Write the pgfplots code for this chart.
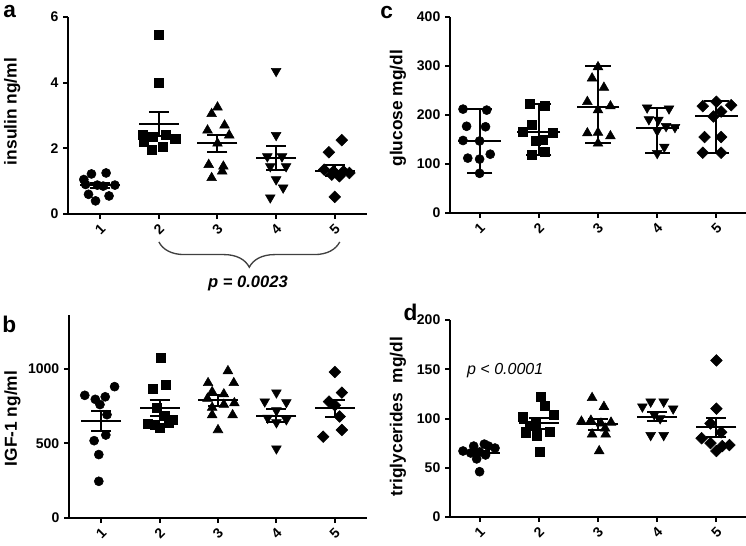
\documentclass[border=0pt]{standalone}
\usepackage{pgfplots}
\pgfplotsset{compat=1.18}
\usepackage{fontspec}
\setmainfont{Liberation Sans}
\usetikzlibrary{decorations.pathreplacing}

\pgfplotsset{
  panel/.style={
    scale only axis,
    axis x line*=bottom, axis y line*=left,
    axis line style={-, line width=1.5pt},
    tick align=outside,
    major tick length=3.75pt,
    tick style={line width=1.5pt, black},
    xtick={1,2,3,4,5},
    xticklabels={1,2,3,4,5},
    tick label style={font=\bfseries\fontsize{10.5}{12}\selectfont},
    xticklabel style={yshift=-8pt, rotate=45, anchor=center},
    /pgf/number format/assume math mode=true,
    /pgf/number format/1000 sep={},
    ylabel style={font=\bfseries\fontsize{13}{15}\selectfont, anchor=center},
    clip=false,
    ymin=0,
  },
  meanbar/.style={black, only marks, mark=-, mark size=15pt,
    mark options={line width=1.5pt, black},
    error bars/.cd, y dir=both, y explicit,
    error bar style={line width=1.5pt, black},
    error mark options={rotate=90, line width=1.5pt, black, mark size=7.5pt}},
  rangebar/.style={black, only marks, mark=-, mark size=16pt,
    mark options={line width=1.5pt, black},
    error bars/.cd, y dir=both, y explicit,
    error bar style={line width=1.5pt, black},
    error mark options={rotate=90, line width=1.5pt, black, mark size=9.5pt}},
  circ/.style={black, only marks, mark=*, mark size=3.4pt},
  sq/.style={black, only marks, mark=square*, mark size=3.4pt},
  tri/.style={black, only marks, mark=triangle*, mark size=4.2pt},
  itri/.style={black, only marks, mark=triangle*, mark size=4.2pt, mark options={rotate=180}},
  dia/.style={black, only marks, mark=square*, mark size=3.1pt, mark options={rotate=45}},
}

\begin{document}
\begin{tikzpicture}
\useasboundingbox (0,0) rectangle (559.5pt,-409.5pt);

% ---------- panel a ----------
\begin{axis}[panel, at={(51pt,-160.5pt)}, anchor=south west,
  width=224.25pt, height=147.75pt, xmin=0.45, xmax=5.55, ymax=6,
  ytick={0,2,4,6},
  ylabel={insulin ng/ml},
  ylabel style={at={(axis description cs:-0.187,0.52)}}]
\addplot[circ] coordinates {(0.72,1.05)(0.85,1.22)(1.1,1.25)(0.75,0.9)(0.95,0.88)(1.25,0.88)(1.05,0.85)(0.8,0.6)(1.15,0.55)(0.92,0.4)};
\addplot[sq] coordinates {(2.0,5.45)(2.0,4.0)(1.72,2.4)(1.74,2.2)(1.9,2.35)(2.12,2.4)(2.28,2.3)(1.88,1.95)(2.07,2.05)};
\addplot[tri] coordinates {(3.0,3.25)(2.9,3.05)(3.12,2.7)(2.83,2.55)(3.2,2.4)(3.0,2.15)(2.85,1.5)(3.1,1.45)(3.08,1.3)(2.9,1.1)};
\addplot[itri] coordinates {(4.0,4.35)(4.0,2.4)(3.85,1.75)(4.1,1.75)(3.9,1.45)(4.17,1.45)(4.0,1.05)(4.12,0.8)(3.9,0.5)};
\addplot[dia] coordinates {(5.12,2.25)(4.9,1.88)(4.82,1.35)(4.98,1.3)(5.15,1.3)(5.25,1.25)(4.95,1.2)(5.08,1.15)(5.0,0.52)};
\addplot[meanbar] coordinates {(1,0.87) +- (0,0.08) (2,2.75) +- (0,0.37) (3,2.15) +- (0,0.25) (4,1.70) +- (0,0.37) (5,1.32) +- (0,0.16)};
\draw[decorate, decoration={brace, mirror, amplitude=19pt}, line width=1pt, black!75]
  (axis cs:2,-0.85) -- (axis cs:5.085,-0.85);
\node[font=\bfseries\itshape\fontsize{12.4}{14}\selectfont] at (axis cs:3.52,-2.1) {p = 0.0023};
\end{axis}

% ---------- panel c ----------
\begin{axis}[panel, at={(337.5pt,-159.75pt)}, anchor=south west,
  width=222pt, height=147pt, xmin=0.5, xmax=5.5, ymax=400,
  ytick={0,100,200,300,400},
  ylabel={glucose mg/dl},
  ylabel style={at={(axis description cs:-0.176,0.535)}}]
\addplot[circ] coordinates {(0.72,212)(1.12,210)(0.78,177)(1.1,176)(0.72,148)(1.0,147)(1.18,120)(0.8,112)(1.0,110)(1.0,81)};
\addplot[sq] coordinates {(1.85,223)(2.1,218)(1.88,180)(1.73,166)(2.24,163)(1.95,148)(2.07,149)(2.1,125)(1.88,119)};
\addplot[tri] coordinates {(3.0,298)(2.9,275)(3.1,256)(2.82,227)(3.21,218)(3.0,210)(2.82,163)(3.0,164)(3.21,157)(3.0,142)};
\addplot[itri] coordinates {(3.83,215)(4.2,213)(3.86,191)(4.02,190)(4.15,177)(4.3,175)(4.0,168)(4.12,135)(4.0,122)};
\addplot[dia] coordinates {(5.0,227)(4.77,218)(5.25,220)(5.08,207)(4.95,197)(4.8,155)(5.08,155)(4.77,123)(5.08,123)};
\addplot[rangebar] coordinates {(1,147) += (0,65) -= (0,66) (2,166) += (0,57) -= (0,47) (3,217) += (0,83) -= (0,75) (4,174) += (0,41) -= (0,52) (5,198) += (0,30) -= (0,75)};
\end{axis}

% ---------- panel b ----------
\begin{axis}[panel, at={(51.75pt,-388.5pt)}, anchor=south west,
  width=223.5pt, height=152.25pt, xmin=0.45, xmax=5.55, ymax=1360,
  ytick={0,500,1000},
  ylabel={IGF-1 ng/ml},
  ylabel style={at={(axis description cs:-0.19,0.49)}}]
\addplot[circ] coordinates {(1.23,880)(0.72,822)(0.9,795)(1.07,812)(0.98,760)(1.1,692)(1.08,556)(0.88,518)(0.96,425)(0.96,246)};
\addplot[sq] coordinates {(2.02,1075)(2.1,890)(1.88,866)(1.95,740)(2.08,682)(1.8,630)(1.92,625)(2.16,635)(2.0,605)(2.22,660)};
\addplot[tri] coordinates {(3.17,985)(2.83,905)(3.27,905)(2.9,845)(3.1,830)(2.82,800)(3.28,770)(2.9,740)(3.1,760)(2.9,690)(3.25,690)(3.0,590)};
\addplot[itri] coordinates {(4.0,840)(3.8,780)(4.17,775)(4.0,720)(3.85,670)(4.17,660)(4.0,640)(4.0,465)};
\addplot[dia] coordinates {(5.0,978)(5.12,840)(4.9,780)(5.0,755)(5.08,680)(5.12,590)(4.8,545)};
\addplot[meanbar] coordinates {(1,650) +- (0,70) (2,738) +- (0,52) (3,788) +- (0,38) (4,685) +- (0,45) (5,735) +- (0,56)};
\end{axis}

% ---------- panel d ----------
\begin{axis}[panel, at={(337.5pt,-387.75pt)}, anchor=south west,
  width=222pt, height=147.75pt, xmin=0.5, xmax=5.5, ymax=200,
  ytick={0,50,100,150,200},
  ylabel={triglycerides\ \ mg/dl},
  ylabel style={at={(axis description cs:-0.176,0.51)}}]
\addplot[circ] coordinates {(0.72,67)(0.9,72)(1.08,74)(1.15,72)(1.26,70)(0.85,65)(1.0,66)(1.1,63)(0.95,59)(1.0,46)};
\addplot[sq] coordinates {(2.03,122)(2.1,113)(2.25,104)(1.73,102)(1.95,95)(1.85,93)(1.78,86)(1.96,83)(2.19,87)(2.02,66)};
\addplot[tri] coordinates {(2.9,121)(3.1,112)(2.72,97)(3.22,96)(2.88,98)(3.05,95)(3.12,90)(2.9,84)(3.13,84)(3.02,67)};
\addplot[itri] coordinates {(3.89,117)(4.11,117)(3.75,112)(4.27,110)(3.95,104)(4.05,100)(3.89,83)(4.11,83)};
\addplot[dia] coordinates {(5.0,159)(5.0,110)(4.9,95)(5.08,86)(4.75,80)(4.9,75)(5.22,73)(5.1,72)(5.0,67)};
\addplot[meanbar] coordinates {(1,65) +- (0,2.5) (2,95) +- (0,5.5) (3,94) +- (0,6) (4,102) +- (0,4.5) (5,91) +- (0,9.5)};
\node[anchor=west, font=\itshape\fontsize{12}{14}\selectfont] at (axis cs:0.71,149) {p < 0.0001};
\end{axis}

% panel letters
\node[anchor=base west, inner sep=0pt, font=\bfseries\fontsize{17}{20}\selectfont] at (2.25pt,-12.75pt) {a};
\node[anchor=base west, inner sep=0pt, font=\bfseries\fontsize{17}{20}\selectfont] at (285pt,-13.5pt) {c};
\node[anchor=base west, inner sep=0pt, font=\bfseries\fontsize{17}{20}\selectfont] at (1.5pt,-249pt) {b};
\node[anchor=base west, inner sep=0pt, font=\bfseries\fontsize{17}{20}\selectfont] at (302.5pt,-240pt) {d};
\end{tikzpicture}
\end{document}
